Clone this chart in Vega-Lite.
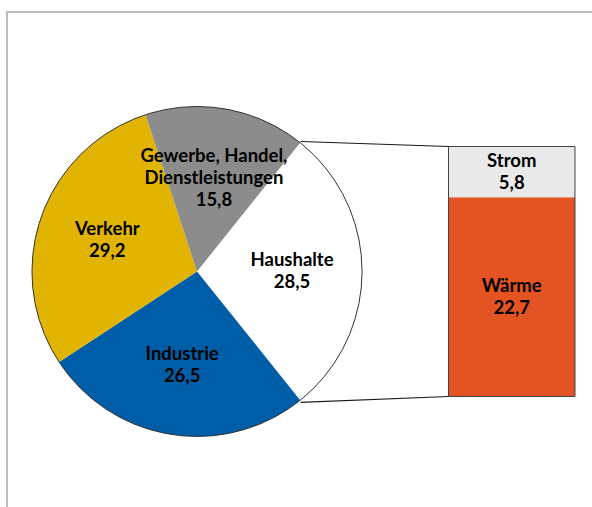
{
  "$schema": "https://vega.github.io/schema/vega-lite/v6.json",
  "width": 592,
  "height": 507,
  "padding": 0,
  "autosize": {"type": "none"},
  "background": "white",
  "config": {"view": {"stroke": null}},
  "datasets": {
    "pie": [
      {"name": "Haushalte", "value": 28.5, "k": 1, "lines": 2, "label": "Haushalte\n28,5"},
      {"name": "Industrie", "value": 26.5, "k": 2, "lines": 2, "label": "Industrie\n26,5"},
      {"name": "Verkehr", "value": 29.2, "k": 3, "lines": 2, "label": "Verkehr\n29,2"},
      {"name": "Gewerbe, Handel, Dienstleistungen", "value": 15.8, "k": 4, "lines": 3, "label": "Gewerbe, Handel,\nDienstleistungen\n15,8"}
    ],
    "bar": [
      {"name": "Wärme", "value": 22.7, "k": 1, "label": "Wärme\n22,7"},
      {"name": "Strom", "value": 5.8, "k": 2, "label": "Strom\n5,8"}
    ]
  },
  "layer": [
    {
      "data": {"values": [{}]},
      "mark": {"type": "rect", "fillOpacity": 0, "stroke": "#bdbdbd", "strokeWidth": 2, "clip": false},
      "encoding": {
        "x": {"datum": -21.66, "type": "quantitative", "scale": {"domain": [-22.46, 45.03], "nice": false, "zero": false}, "axis": null},
        "x2": {"datum": 50},
        "y": {"datum": 43.83, "type": "quantitative", "scale": {"domain": [-12.6, 45.2], "nice": false, "zero": false}, "axis": null},
        "y2": {"datum": -20}
      }
    },
    {
      "data": {"name": "pie"},
      "mark": {"type": "arc", "outerRadius": 165},
      "encoding": {
        "x": {"datum": 0, "type": "quantitative", "scale": {"domain": [-22.46, 45.03], "nice": false, "zero": false}, "axis": null},
        "y": {"datum": 14.25, "type": "quantitative", "scale": {"domain": [-12.6, 45.2], "nice": false, "zero": false}, "axis": null},
        "theta": {"field": "value", "type": "quantitative", "stack": true, "scale": {"range": [0.6754, 6.9586]}},
        "order": {"field": "k", "type": "quantitative"},
        "color": {
          "field": "name", "type": "nominal", "legend": null,
          "scale": {
            "domain": ["Haushalte", "Industrie", "Verkehr", "Gewerbe, Handel, Dienstleistungen", "Wärme", "Strom"],
            "range": ["#ffffff", "#005da8", "#e0b400", "#8c8c8c", "#e45322", "#e9e9e9"]
          }
        }
      }
    },
    {
      "data": {"values": [{}]},
      "mark": {"type": "arc", "outerRadius": 165, "filled": false, "stroke": "#333333", "strokeWidth": 1},
      "encoding": {
        "x": {"datum": 0, "type": "quantitative", "scale": {"domain": [-22.46, 45.03], "nice": false, "zero": false}, "axis": null},
        "y": {"datum": 14.25, "type": "quantitative", "scale": {"domain": [-12.6, 45.2], "nice": false, "zero": false}, "axis": null}
      }
    },
    {
      "data": {"name": "pie"},
      "mark": {"type": "text", "radius": 95, "dy": -11, "lineBreak": "\n", "lineHeight": 22, "font": "Lato", "fontWeight": "bold", "fontSize": 18.5, "fill": "#000000", "align": "center", "baseline": "middle"},
      "encoding": {
        "x": {"datum": 0, "type": "quantitative", "scale": {"domain": [-22.46, 45.03], "nice": false, "zero": false}, "axis": null},
        "y": {"datum": 14.25, "type": "quantitative", "scale": {"domain": [-12.6, 45.2], "nice": false, "zero": false}, "axis": null},
        "theta": {"field": "value", "type": "quantitative", "stack": true},
        "order": {"field": "k", "type": "quantitative"},
        "text": {"field": "label", "type": "nominal"},
        "opacity": {"condition": {"test": "datum.lines == 3", "value": 0}, "value": 1}
      }
    },
    {
      "data": {"name": "pie"},
      "mark": {"type": "text", "radius": 95, "dy": -22, "lineBreak": "\n", "lineHeight": 22, "font": "Lato", "fontWeight": "bold", "fontSize": 18.5, "fill": "#000000", "align": "center", "baseline": "middle"},
      "encoding": {
        "x": {"datum": 0, "type": "quantitative", "scale": {"domain": [-22.46, 45.03], "nice": false, "zero": false}, "axis": null},
        "y": {"datum": 14.25, "type": "quantitative", "scale": {"domain": [-12.6, 45.2], "nice": false, "zero": false}, "axis": null},
        "theta": {"field": "value", "type": "quantitative", "stack": true},
        "order": {"field": "k", "type": "quantitative"},
        "text": {"field": "label", "type": "nominal"},
        "opacity": {"condition": {"test": "datum.lines == 3", "value": 1}, "value": 0}
      }
    },
    {
      "data": {"name": "bar"},
      "transform": [{"stack": "value", "groupby": [], "sort": [{"field": "k", "order": "ascending"}], "as": ["v0", "v1"]}],
      "mark": {"type": "rect"},
      "encoding": {
        "x": {"datum": 28.67, "type": "quantitative", "scale": {"domain": [-22.46, 45.03], "nice": false, "zero": false}, "axis": null},
        "x2": {"datum": 43.09},
        "y": {"field": "v0", "type": "quantitative", "scale": {"domain": [-12.6, 45.2], "nice": false, "zero": false}, "axis": null},
        "y2": {"field": "v1"},
        "color": {"field": "name", "type": "nominal", "legend": null}
      }
    },
    {
      "data": {"name": "bar"},
      "mark": {"type": "rect", "fillOpacity": 0, "stroke": "#404040", "strokeWidth": 1},
      "encoding": {
        "x": {"datum": 28.67, "type": "quantitative", "scale": {"domain": [-22.46, 45.03], "nice": false, "zero": false}, "axis": null},
        "x2": {"datum": 43.09},
        "y": {"aggregate": "sum", "field": "value", "type": "quantitative", "stack": null, "scale": {"domain": [-12.6, 45.2], "nice": false, "zero": false}, "axis": null},
        "y2": {"datum": 0}
      }
    },
    {
      "data": {"name": "bar"},
      "mark": {"type": "text", "dy": -11, "lineBreak": "\n", "lineHeight": 22, "font": "Lato", "fontWeight": "bold", "fontSize": 18.5, "fill": "#000000", "align": "center", "baseline": "middle"},
      "encoding": {
        "x": {"datum": 35.88, "type": "quantitative", "scale": {"domain": [-22.46, 45.03], "nice": false, "zero": false}, "axis": null},
        "y": {"field": "value", "type": "quantitative", "stack": "zero", "bandPosition": 0.5, "scale": {"domain": [-12.6, 45.2], "nice": false, "zero": false}, "axis": null},
        "order": {"field": "k", "type": "quantitative"},
        "text": {"field": "label", "type": "nominal"}
      }
    },
    {
      "data": {"values": [{}]},
      "mark": {"type": "rule", "stroke": "#1a1a1a", "strokeWidth": 1.2},
      "encoding": {
        "x": {"datum": 11.8, "type": "quantitative", "scale": {"domain": [-22.46, 45.03], "nice": false, "zero": false}, "axis": null},
        "y": {"datum": 29.07, "type": "quantitative", "scale": {"domain": [-12.6, 45.2], "nice": false, "zero": false}, "axis": null},
        "x2": {"datum": 28.67},
        "y2": {"datum": 28.5}
      }
    },
    {
      "data": {"values": [{}]},
      "mark": {"type": "rule", "stroke": "#1a1a1a", "strokeWidth": 1.2},
      "encoding": {
        "x": {"datum": 11.8, "type": "quantitative", "scale": {"domain": [-22.46, 45.03], "nice": false, "zero": false}, "axis": null},
        "y": {"datum": -0.68, "type": "quantitative", "scale": {"domain": [-12.6, 45.2], "nice": false, "zero": false}, "axis": null},
        "x2": {"datum": 28.67},
        "y2": {"datum": 0}
      }
    }
  ]
}
